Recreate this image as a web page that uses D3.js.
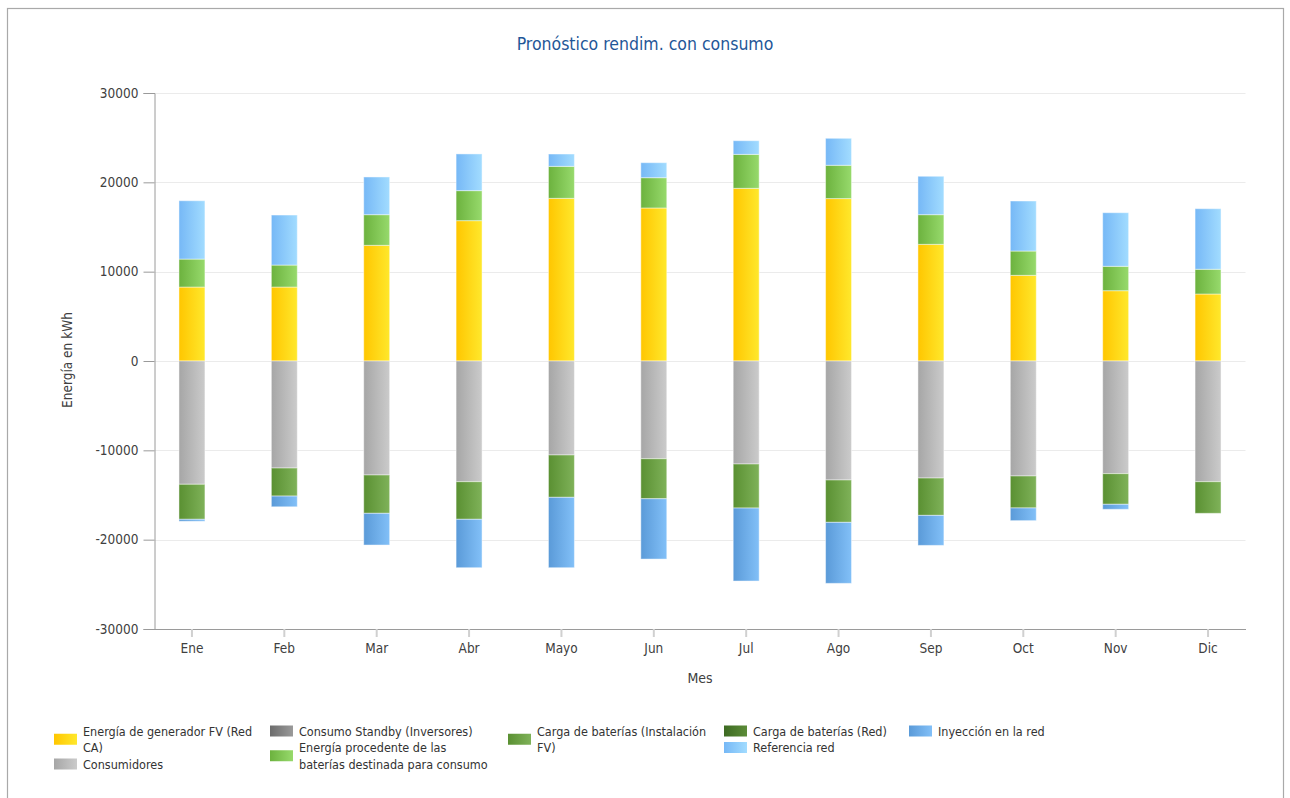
<!DOCTYPE html>
<html>
<head>
<meta charset="utf-8">
<script src="https://cdn.jsdelivr.net/npm/d3@7"></script>
<style>
  html, body { margin: 0; padding: 0; background: #fff; }
  svg { display: block; font-family: "DejaVu Sans", sans-serif; font-stretch: condensed; }
</style>
</head>
<body>
<svg id="chart" width="1290" height="798"></svg>
<script>
// ---------- DATA ----------
const months = ["Ene","Feb","Mar","Abr","Mayo","Jun","Jul","Ago","Sep","Oct","Nov","Dic"];
const yTicks = [-30000,-20000,-10000,0,10000,20000,30000];

const fvGenerador    = [8280, 8280, 12950, 15710, 18210, 17130, 19330, 18180, 13060, 9590, 7870, 7500];
const consumidores   = [-13800, -11980, -12760, -13510, -10520, -10940, -11530, -13320, -13100, -12870, -12610, -13510];
const standby        = [0, 0, 0, 0, 0, 0, 0, 0, 0, 0, 0, 0];
const bateriasConsumo= [3130, 2460, 3430, 3360, 3580, 3390, 3800, 3730, 3320, 2720, 2730, 2770];
const cargaFV        = [-3920, -3140, -4290, -4210, -4740, -4480, -4930, -4740, -4180, -3580, -3430, -3540];
const cargaRed       = [0, 0, 0, 0, 0, 0, 0, 0, 0, 0, 0, 0];
const referenciaRed  = [6530, 5600, 4220, 4110, 1380, 1680, 1530, 3020, 4300, 5600, 6000, 6780];
const inyeccion      = [-220, -1200, -3550, -5420, -7880, -6750, -8170, -6830, -3360, -1420, -560, 0];

const seriesKeys = ["fv","cons","standby","batcons","cargafv","cargared","refred","inyec"];
const seriesValues = {fv: fvGenerador, cons: consumidores, standby: standby, batcons: bateriasConsumo,
  cargafv: cargaFV, cargared: cargaRed, refred: referenciaRed, inyec: inyeccion};
const seriesColors = {
  fv:      ["#ffc600", "#ffe82c"],
  cons:    ["#a6a6a6", "#cbcbcb"],
  standby: ["#6c6c6c", "#9a9a9a"],
  batcons: ["#6cb23e", "#97da6c"],
  cargafv: ["#5a9032", "#7fb259"],
  cargared:["#3d6a22", "#5c8c38"],
  refred:  ["#76b8f6", "#a2dcff"],
  inyec:   ["#5a9ad8", "#82c0f8"]
};
const legendCols = [
  [{key:"fv", lines:["Energía de generador FV (Red","CA)"]}, {key:"cons", lines:["Consumidores"]}],
  [{key:"standby", lines:["Consumo Standby (Inversores)"]}, {key:"batcons", lines:["Energía procedente de las","baterías destinada para consumo"]}],
  [{key:"cargafv", lines:["Carga de baterías (Instalación","FV)"]}],
  [{key:"cargared", lines:["Carga de baterías (Red)"]}, {key:"refred", lines:["Referencia red"]}],
  [{key:"inyec", lines:["Inyección en la red"]}]
];
const legendColX = [54, 270, 508, 724, 909];

// ---------- CHART ----------
const svg = d3.select("#chart");
const margin = {left: 154.5, right: 1245.5, top: 93, bottom: 629};

// outer frame
svg.append("rect").attr("x", 7.5).attr("y", 8.5).attr("width", 1276).attr("height", 800)
  .attr("fill", "none").attr("stroke", "#a9a9a9").attr("stroke-width", 1.2);

const defs = svg.append("defs");
seriesKeys.forEach(k => {
  const g = defs.append("linearGradient").attr("id", "g-" + k)
    .attr("x1", "0%").attr("x2", "100%").attr("y1", "0%").attr("y2", "0%");
  g.append("stop").attr("offset", "0%").attr("stop-color", seriesColors[k][0]);
  g.append("stop").attr("offset", "100%").attr("stop-color", seriesColors[k][1]);
});

const x = d3.scaleBand().domain(months).range([margin.left, margin.right])
  .paddingInner(0.719).paddingOuter(0.265);
const y = d3.scaleLinear().domain([-30000, 30000]).range([margin.bottom, margin.top]);

// gridlines
svg.append("g").selectAll("line").data(yTicks).join("line")
  .attr("x1", margin.left).attr("x2", margin.right)
  .attr("y1", d => Math.round(y(d)) + 0.5).attr("y2", d => Math.round(y(d)) + 0.5)
  .attr("stroke", "#ebebeb").attr("stroke-width", 1);

// stacked data
const table = months.map((m, i) => {
  const row = {month: m};
  seriesKeys.forEach(k => row[k] = seriesValues[k][i]);
  return row;
});
const stacked = d3.stack().keys(seriesKeys).offset(d3.stackOffsetDiverging)(table);

const barsG = svg.append("g");
stacked.forEach(s => {
  barsG.append("g").selectAll("rect")
    .data(s.filter(d => d[1] !== d[0]))
    .join("rect")
    .attr("x", d => x(d.data.month))
    .attr("width", x.bandwidth())
    .attr("y", d => y(Math.max(d[0], d[1])))
    .attr("height", d => Math.abs(y(d[0]) - y(d[1])))
    .attr("fill", "url(#g-" + s.key + ")")
    .attr("stroke", "rgba(255,255,255,0.45)")
    .attr("stroke-width", 1);
});

// y axis
const yAxis = d3.axisLeft(y).tickValues(yTicks).tickSize(11).tickPadding(5)
  .tickFormat(d => String(d));
const yg = svg.append("g").attr("transform", `translate(${margin.left},0)`).call(yAxis);
yg.select(".domain").attr("stroke", "#9a9a9a");
yg.selectAll(".tick line").attr("stroke", "#9a9a9a");
yg.selectAll(".tick text").attr("fill", "#404040").style("font-size", "13.5px")
  .style("font-family", '"DejaVu Sans", sans-serif').style("font-stretch", "condensed");

// x axis
const xAxis = d3.axisBottom(x).tickSize(8).tickSizeOuter(0).tickPadding(6);
const xg = svg.append("g").attr("transform", `translate(0,${margin.bottom})`).call(xAxis);
xg.select(".domain").attr("stroke", "#9a9a9a");
xg.selectAll(".tick line").attr("stroke", "#d0d0d0").attr("stroke-width", 2);
xg.selectAll(".tick text").attr("fill", "#404040").style("font-size", "13.5px")
  .style("font-family", '"DejaVu Sans", sans-serif').style("font-stretch", "condensed");

// titles
svg.append("text").attr("x", 645).attr("y", 50).attr("text-anchor", "middle")
  .attr("fill", "#1f5798").style("font-size", "17.5px").text("Pronóstico rendim. con consumo");
svg.append("text").attr("x", 700).attr("y", 683).attr("text-anchor", "middle")
  .attr("fill", "#404040").style("font-size", "14px").text("Mes");
svg.append("text").attr("transform", "translate(72,360) rotate(-90)").attr("text-anchor", "middle")
  .attr("fill", "#404040").style("font-size", "13.5px").text("Energía en kWh");

// legend
const lineH = 16.5, firstBase = 735.5;
legendCols.forEach((col, ci) => {
  let yy = firstBase;
  col.forEach(item => {
    const n = item.lines.length;
    const centerY = yy - 4.5 + (n - 1) * lineH / 2;
    svg.append("rect").attr("x", legendColX[ci]).attr("y", centerY - 5.5)
      .attr("width", 23).attr("height", 11).attr("fill", "url(#g-" + item.key + ")");
    const t = svg.append("text").attr("fill", "#333").style("font-size", "12.5px");
    item.lines.forEach((ln, li) => {
      t.append("tspan").attr("x", legendColX[ci] + 29).attr("y", yy + li * lineH).text(ln);
    });
    yy += n * lineH;
  });
});
</script>
</body>
</html>
